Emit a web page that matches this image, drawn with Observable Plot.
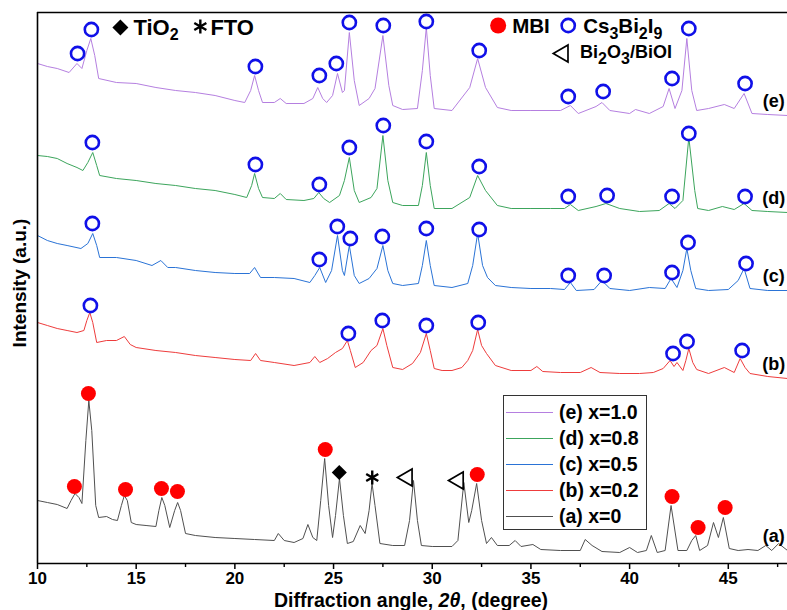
<!DOCTYPE html>
<html><head><meta charset="utf-8">
<script src="https://cdn.jsdelivr.net/npm/d3@7"></script>
<script src="https://cdn.jsdelivr.net/npm/@observablehq/plot@0.6"></script>
<style>
body{margin:0;background:#fff;font-family:"Liberation Sans",Arial,sans-serif;}
#wrap{position:relative;width:787px;height:610px;overflow:hidden;}
#legend{position:absolute;left:503px;top:395px;width:144px;height:135px;border:1px solid #333;background:#fff;box-sizing:border-box;padding-top:4px;}
.row{height:25.8px;display:flex;align-items:center;padding-left:2px;}
.sw{width:47px;height:0;border-top:1px solid;margin-right:6px;}
.lab{font-weight:bold;font-size:19.5px;color:#000;white-space:nowrap;}
#xlabel{position:absolute;top:591px;left:0;width:787px;box-sizing:border-box;padding-left:35px;text-align:center;font-weight:bold;font-size:19.5px;line-height:19px;}
</style></head>
<body><div id="wrap"><div id="chart"></div>
<div id="legend"></div>
<div id="xlabel">Diffraction angle, <i>2θ</i>, (degree)</div>
</div>
<script>
const angleTicks = [10,15,20,25,30,35,40,45];
const minorTicks = [12.5,17.5,22.5,27.5,32.5,37.5,42.5,47.5];
const seriesNames = ["(a) x=0","(b) x=0.2","(c) x=0.5","(d) x=0.8","(e) x=1.0"];
const seriesTags = ["(a)","(b)","(c)","(d)","(e)"];
const seriesColors = ["#505050","#ee3c3c","#2a73d6","#3ca55c","#b57fe0"];

// [2θ, stacked intensity (a.u.)]
const traceA = [[10,63],[10.5,61],[11,59],[11.5,55],[11.7,63],[11.9,70],[12.1,66],[12.25,60],[12.45,123],[12.6,163],[12.75,133],[12.95,58],[13.1,46],[13.5,47],[13.8,44],[14.05,43],[14.25,58],[14.4,68],[14.55,63],[14.75,41],[15,39],[15.5,38],[16,37],[16.15,53],[16.3,66],[16.45,58],[16.7,36],[16.95,53],[17.1,61],[17.25,53],[17.5,30],[18,28],[19,26],[20,25],[21,24],[22,23],[22.2,30],[22.5,23],[23,21],[23.45,25],[23.7,39],[23.95,26],[24.15,23],[24.35,63],[24.55,105],[24.75,58],[24.95,26],[25.1,48],[25.3,85],[25.5,48],[25.7,20],[26,22],[26.35,38],[26.6,30],[26.8,53],[26.95,80],[27.1,58],[27.35,20],[28,18],[28.6,18],[28.85,43],[29.05,83],[29.25,43],[29.45,18],[30,17],[31,17],[31.3,23],[31.6,81],[31.85,41],[32,53],[32.25,80],[32.5,43],[32.75,20],[33,26],[33.3,18],[33.9,18],[34.2,23],[34.5,17],[35.1,19],[35.5,14],[36.5,13],[37.5,13],[37.75,24],[38.1,18],[38.6,12],[39.5,11],[40,16],[40.4,11],[40.85,13],[41.1,28],[41.4,11],[41.8,13],[42.1,58],[42.45,13],[42.9,13],[43.15,23],[43.35,28],[43.55,13],[43.95,18],[44.25,41],[44.5,26],[44.75,46],[45.05,15],[45.5,13],[46,14],[46.5,13],[46.9,18],[47.2,13],[47.55,20],[48,13]];
const traceB = [[10,241],[10.5,238],[11,235],[11.5,233],[12,231],[12.35,233],[12.5,243],[12.65,251],[12.8,241],[13,221],[13.5,223],[14,223],[14.4,227],[14.7,219],[15,216],[16,213],[17,211],[18,208],[19,206],[20,204],[20.8,203],[21.05,210],[21.3,203],[22,201],[23,198],[23.8,201],[24.05,207],[24.3,201],[24.7,205],[25.1,211],[25.45,215],[25.7,223],[25.85,213],[26.1,196],[26.5,201],[26.9,213],[27.2,218],[27.5,235],[27.7,218],[28,196],[28.5,194],[29,200],[29.4,211],[29.7,230],[29.9,213],[30.1,195],[30.5,193],[31,193],[31.5,196],[31.8,203],[32.05,213],[32.3,234],[32.5,218],[32.75,210],[33.2,198],[34,193],[35,193],[35.3,197],[35.6,192],[36.5,191],[37.5,191],[38.05,196],[38.5,191],[39.5,190],[40.5,190],[41.2,191],[41.7,195],[42.05,203],[42.25,197],[42.4,201],[42.7,193],[42.85,203],[43,215],[43.2,201],[43.4,194],[44,190],[44.8,196],[45.3,191],[45.6,205],[45.85,196],[46.1,190],[47,187],[48,185]];
const traceC = [[10,328],[10.5,323],[11,320],[11.5,318],[12.2,315],[12.55,320],[12.8,330],[13,318],[13.15,306],[14,306],[15,303],[15.8,298],[16.25,303],[16.6,296],[17,296],[18,293],[19,291],[20,290],[20.75,290],[21,296],[21.3,286],[22,286],[23,285],[23.8,281],[24.05,288],[24.3,296],[24.6,281],[24.9,293],[25.2,328],[25.45,293],[25.55,288],[25.8,318],[26.05,288],[26.3,280],[26.8,285],[27.2,295],[27.5,318],[27.75,293],[28,280],[28.5,278],[29.3,280],[29.5,298],[29.7,323],[29.9,298],[30.1,278],[31,276],[31.8,280],[32.05,298],[32.3,330],[32.55,298],[32.8,286],[33.2,278],[34,276],[35,275],[36,275],[36.7,274],[37,281],[37.3,273],[38.2,274],[38.6,283],[39,275],[40,273],[41,276],[41.8,275],[42.1,285],[42.4,276],[42.7,293],[42.9,315],[43.1,293],[43.35,275],[44,273],[45,274],[45.5,283],[45.8,295],[46.1,275],[47,273],[48,273]];
const traceD = [[10,408],[10.5,407],[11,405],[11.5,400],[12,396],[12.3,393],[12.55,401],[12.8,411],[13,398],[13.15,388],[14,385],[15,383],[16,380],[17,378],[18,375],[19,373],[20,369],[20.6,366],[20.85,378],[21,390],[21.2,375],[21.4,366],[22,365],[22.3,370],[22.6,364],[23.5,363],[24,365],[24.25,371],[24.5,365],[24.8,361],[25.3,368],[25.55,383],[25.8,406],[26.05,373],[26.3,361],[26.9,366],[27.2,375],[27.5,428],[27.75,383],[28,361],[28.5,358],[29.3,358],[29.5,378],[29.7,411],[29.9,378],[30.1,355],[31,355],[31.9,366],[32.3,388],[32.7,373],[33.3,358],[34,355],[35,355],[36,355],[36.7,355],[37,359],[37.4,353],[38.3,357],[38.8,360],[39.5,355],[40.5,352],[41.5,353],[42,360],[42.3,355],[42.7,363],[43,426],[43.3,373],[43.45,355],[44,353],[44.7,357],[45.3,354],[45.8,360],[46.2,353],[47,352],[48,351]];
const traceE = [[10,500],[10.5,497],[11,495],[11.6,491],[12,500],[12.25,495],[12.5,513],[12.7,525],[12.9,508],[13.1,485],[14,481],[15,480],[16,476],[17,473],[18,471],[19,468],[20,463],[20.5,461],[20.8,473],[21,488],[21.2,473],[21.4,461],[22,461],[22.3,465],[22.6,460],[23.5,460],[23.95,465],[24.2,476],[24.45,465],[24.65,461],[24.95,468],[25.2,490],[25.45,471],[25.55,473],[25.8,531],[26.05,483],[26.3,458],[26.8,465],[27.1,475],[27.5,528],[27.8,478],[28,458],[28.5,454],[29.25,455],[29.5,493],[29.7,536],[29.9,488],[30.1,455],[31,453],[31.9,476],[32.3,505],[32.7,476],[33.3,456],[34,453],[35,453],[36.5,453],[37,458],[37.4,450],[38.3,457],[38.6,461],[39,453],[40,450],[40.3,454],[41,450],[41.7,457],[42,475],[42.3,455],[42.65,473],[42.9,525],[43.15,473],[43.4,453],[44,455],[44.8,459],[45.3,455],[45.8,470],[46.2,450],[47,449],[48,448]];
const traces = [traceA, traceB, traceC, traceD, traceE];

// phase markers [2θ, intensity]
const mbiPeaks = [[11.87,77],[12.58,170],[14.46,74],[16.28,75],[17.09,72],[24.58,114],[32.28,89],[42.15,67],[43.47,36],[44.84,56]];
const csbiPeaks = [
  [12.03,510],[12.73,534],[21.04,497],[24.28,488],[25.14,500],[25.8,541],[27.52,538],[29.7,542],[32.38,513],[36.89,467],[38.66,472],[42.15,485],[43.0,535],[45.85,480],
  [12.78,421],[21.04,399],[24.28,379],[25.8,416],[27.52,438],[29.7,422],[32.38,397],[36.89,367],[38.86,368],[42.15,367],[43.0,430],[45.85,367],
  [12.78,340],[24.28,304],[25.19,337],[25.85,325],[27.47,327],[29.7,335],[32.38,334],[36.89,288],[38.71,288],[42.15,291],[42.96,321],[45.9,300],
  [12.68,258],[25.75,230],[27.47,243],[29.7,238],[32.33,241],[42.2,210],[42.91,222],[45.7,213]];
const tio2Peaks = [[25.29,91]];
const ftoPeaks = [[26.96,86]];
const biPeaks = [[28.73,86],[31.32,83]];

// key at top of plot
const keyDiamond = [[14.2,536]];
const keyStar = [[18.25,537]];
const keyMbi = [[33.34,538]];
const keyCs = [[36.89,538]];
const keyBi = [[36.63,510]];
const keyLarge = [[14.86,536,"TiO_2"],[18.76,536,"FTO"]];
const keyMid = [[34.05,537,"MBI"],[37.65,537,"Cs_3Bi_2I_9"]];
const keySmall = [[37.49,511,"Bi_2O_3/BiOI"]];
const tagAngle = 47.3;

const X = d => d[0], Y = d => d[1];
const font = "Liberation Sans, Arial, sans-serif";

const plot = Plot.plot({
  width: 787, height: 610,
  marginLeft: 37, marginRight: 0, marginTop: 12, marginBottom: 47,
  style: {fontFamily: font, background: "#fff", color: "#000"},
  x: {domain: [10, 48]},
  y: {domain: [0, 551], axis: null},
  marks: [
    ...traces.map((t, i) => Plot.line(t, {x: X, y: Y, stroke: seriesColors[i], strokeWidth: 1})),
    Plot.text(traces.map((t, i) => ({tag: seriesTags[i], y: t[t.length - 1][1]})),
      {x: () => tagAngle, y: "y", text: "tag", dy: -14, fontSize: 18, fontWeight: "bold", fill: "#000"}),
    Plot.dot(mbiPeaks, {x: X, y: Y, r: 7.5, fill: "#ff0000", stroke: "none"}),
    Plot.dot(csbiPeaks, {x: X, y: Y, r: 6.6, fill: "#fff", stroke: "#1010e8", strokeWidth: 2.6}),
    Plot.dot(tio2Peaks, {x: X, y: Y, r: 6.8, symbol: "diamond2", fill: "#000", stroke: "none"}),
    Plot.dot(ftoPeaks, {x: X, y: Y, r: 6.6, symbol: "asterisk", stroke: "#000", strokeWidth: 2.4}),
    Plot.dot(biPeaks, {x: X, y: Y, r: 6.3, symbol: "triangle", rotate: -90, stroke: "#000", strokeWidth: 1.7, fill: "none"}),
    Plot.dot(keyDiamond, {x: X, y: Y, r: 7.2, symbol: "diamond2", fill: "#000", stroke: "none"}),
    Plot.dot(keyStar, {x: X, y: Y, r: 6.6, symbol: "asterisk", stroke: "#000", strokeWidth: 2.4}),
    Plot.dot(keyMbi, {x: X, y: Y, r: 8, fill: "#ff0000", stroke: "none"}),
    Plot.dot(keyCs, {x: X, y: Y, r: 6.6, fill: "#fff", stroke: "#1010e8", strokeWidth: 2.6}),
    Plot.dot(keyBi, {x: X, y: Y, r: 6.3, symbol: "triangle", rotate: -90, stroke: "#000", strokeWidth: 1.7, fill: "none"}),
    Plot.text(keyLarge, {x: X, y: Y, text: d => d[2], textAnchor: "start", fontSize: 22, fontWeight: "bold", fill: "#000"}),
    Plot.text(keyMid, {x: X, y: Y, text: d => d[2], textAnchor: "start", fontSize: 20.5, fontWeight: "bold", fill: "#000"}),
    Plot.text(keySmall, {x: X, y: Y, text: d => d[2], textAnchor: "start", fontSize: 18, fontWeight: "bold", fill: "#000"}),
    Plot.text(["Intensity (a.u.)"], {frameAnchor: "left", textAnchor: "middle", lineAnchor: "middle", text: d => d, rotate: -90, dx: -18, dy: -5, fontSize: 19, fontWeight: "bold", fill: "#000"}),
    Plot.ruleX([10], {stroke: "#000", strokeWidth: 1.6}),
    Plot.ruleY([0, 551], {stroke: "#000", strokeWidth: 1.6}),
    Plot.axisX({ticks: minorTicks, tickSize: 4, text: null, strokeWidth: 1.4, label: null}),
    Plot.axisX({ticks: angleTicks, tickSize: 6, tickPadding: 2, fontSize: 17, fontWeight: "bold", strokeWidth: 1.5, label: null, tickFormat: d => d})
  ]
});

// subscripts: "_n" -> lowered smaller digits
plot.querySelectorAll("text").forEach(t => {
  const s = t.textContent;
  if (!s.includes("_")) return;
  const fs = parseFloat(getComputedStyle(t).fontSize) || 20;
  const shift = 0.28 * fs;
  t.textContent = "";
  const ns = "http://www.w3.org/2000/svg";
  let lowered = false;
  s.split(/(_\d)/).filter(p => p.length).forEach(p => {
    const ts = document.createElementNS(ns, "tspan");
    if (p[0] === "_") {
      ts.textContent = p.slice(1);
      ts.setAttribute("font-size", (fs * 0.8) + "px");
      ts.setAttribute("dy", shift);
      lowered = true;
    } else {
      ts.textContent = p;
      if (lowered) { ts.setAttribute("dy", -shift); lowered = false; }
    }
    t.appendChild(ts);
  });
});
document.getElementById("chart").appendChild(plot);

const legend = document.getElementById("legend");
for (let i = seriesNames.length - 1; i >= 0; i--) {
  const row = document.createElement("div");
  row.className = "row";
  row.innerHTML = `<div class="sw" style="border-color:${seriesColors[i]}"></div><span class="lab">${seriesNames[i]}</span>`;
  legend.appendChild(row);
}
</script></body></html>
